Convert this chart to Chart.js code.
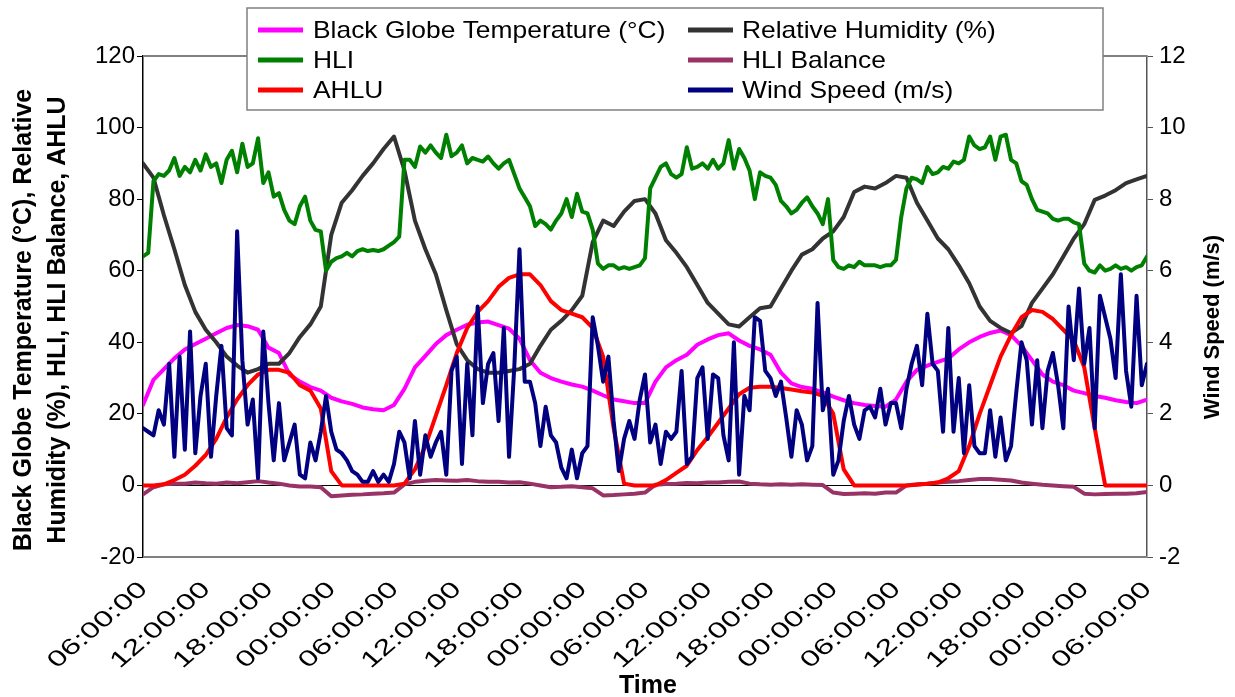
<!DOCTYPE html>
<html>
<head>
<meta charset="utf-8">
<script src="https://cdn.jsdelivr.net/npm/chart.js@4/dist/chart.umd.min.js"></script>
<style>
  html, body { margin: 0; padding: 0; background: #ffffff; }
  #wrap { width: 1235px; height: 697px; }
</style>
</head>
<body>
<div id="wrap"><canvas id="c" width="1235" height="697"></canvas></div>
<script>
// Time axis labels, one every 6 hours over four days
const timeLabels = ["06:00:00","12:00:00","18:00:00","00:00:00","06:00:00","12:00:00","18:00:00","00:00:00",
  "06:00:00","12:00:00","18:00:00","00:00:00","06:00:00","12:00:00","18:00:00","00:00:00","06:00:00"];

// Hourly readings (97 values, 06:00 day 1 to 06:00 day 5)
const globeTemp = [
  22.5, 29.5, 32.5, 35.5, 38, 39.5, 41, 42.5, 44, 44.8,
  44.5, 43.5, 38.5, 37, 31, 29, 27.5, 26.5, 24.5, 23.5,
  22.8, 21.8, 21.3, 21, 22.5, 27, 33, 36.2, 39.5, 42,
  43.5, 44.9, 45.5, 45.8, 44.8, 43.8, 41, 35, 31.5, 30,
  29, 28.2, 27.6, 26.5, 25.2, 24, 23.5, 23, 23, 29,
  33, 35, 36.5, 39.3, 40.8, 42, 42.5, 40.5, 39, 38,
  36.5, 31.5, 28.5, 27.5, 27, 26, 24.8, 23.8, 23, 22.5,
  22.2, 22, 24, 29, 32.3, 33.5, 34.5, 35.5, 38, 40,
  41.5, 42.6, 43.3, 42, 39, 35, 31, 29, 28, 26.5,
  25.8, 25, 24.5, 23.8, 23.3, 23, 24
];
const relHumidity = [
  90, 86, 75.5, 66, 56, 48.5, 43.5, 40, 36, 33.5,
  31.5, 32.5, 34, 34, 37, 41.5, 45, 50, 70, 79,
  82.5, 86.5, 90, 94, 97.5, 88, 74, 66, 59, 49,
  39.5, 35, 32.5, 31.5, 31.5, 32, 32.5, 34, 39, 43.5,
  46, 49, 53, 68, 74, 72.5, 76.5, 79.5, 80, 76,
  68.5, 65, 61, 56, 51, 48, 45, 44.4, 47, 49.5,
  50, 55, 60, 64.5, 66, 69, 71, 75, 82, 83.5,
  83, 84.5, 86.5, 86, 79, 74, 69, 66, 61.5, 56.5,
  50, 46, 44, 42.6, 44.5, 51, 55, 59, 64, 69,
  73, 79.8, 81, 82.5, 84.5, 85.5, 86.5
];
const hliBalance = [
  -2.5, -0.5, 0.3, 0.5, 0.5, 0.8, 0.6, 0.5, 0.8, 0.6,
  0.9, 1.2, 0.8, 0.5, 0, -0.3, -0.3, -0.5, -3.0, -2.8,
  -2.6, -2.5, -2.3, -2.2, -2.0, 0.3, 1.0, 1.3, 1.5, 1.4,
  1.3, 1.5, 1.2, 1.0, 1.0, 0.8, 0.9, 0.5, 0, -0.5,
  -0.4, -0.2, -0.5, -0.8, -2.8, -2.7, -2.5, -2.3, -2.0, 0.2,
  0.4, 0.5, 0.7, 0.6, 0.8, 0.8, 1.0, 1.1, 0.5, 0.3,
  0.2, 0.3, 0.2, 0.3, 0.2, 0.1, -2.0, -2.4, -2.3, -2.2,
  -2.3, -2.0, -2.0, 0, 0.3, 0.5, 0.8, 1.0, 1.2, 1.5,
  1.8, 1.8, 1.6, 1.4, 0.8, 0.5, 0.2, 0, -0.2, -0.4,
  -2.3, -2.5, -2.4, -2.3, -2.3, -2.2, -1.8
];
const ahlu = [
  0, 0, 0.3, 1.5, 3, 5.5, 8.5, 13, 19, 24,
  28, 31, 32.3, 32.3, 31.5, 28, 26.5, 21.5, 4, 0,
  0, 0, 0, 0, 0, 0.5, 4.5, 11, 19.5, 28,
  37, 44, 48.5, 51.5, 55.5, 58, 59, 59, 56, 51.5,
  49, 48, 47, 44, 36, 16, 0.5, 0, 0, 0,
  1.5, 3.5, 5.5, 9.9, 13.5, 17.5, 21.5, 25.5, 27.3, 27.6,
  27.6, 27.2, 26.8, 26.3, 26, 25, 20, 4.5, 0, 0,
  0, 0, 0, 0, 0.2, 0.5, 0.8, 2, 4, 11,
  20, 28, 36, 42, 47, 49, 48.5, 46.5, 43.5, 40.5,
  33, 16, 0, 0, 0, 0, 0
];

// Half-hourly readings (193 values)
const hli = [
  64, 65, 85, 87, 86.5, 88, 91.5, 86.5, 89, 87.5,
  91, 88, 92.5, 89, 90, 84.5, 91, 93.5, 87.5, 95.5,
  89, 90, 97, 84.5, 87.5, 80.7, 81.7, 77, 74, 73,
  78, 80.7, 74, 71.4, 71, 60, 62.5, 63.5, 64, 65,
  64, 65.5, 66, 65.5, 65.8, 65.5, 66, 67, 68, 69.5,
  91, 91, 89, 94.7, 93, 95, 93, 91.5, 98, 92,
  93, 95, 90, 91.5, 91, 90.5, 91.9, 90, 88.5, 90,
  91, 87, 83, 80.5, 78, 72.5, 74, 73, 71.5, 74,
  76, 80, 75, 81.5, 76.5, 76, 71.5, 62, 60.5, 61.5,
  61.5, 60.5, 61, 60.5, 61, 61.5, 63.5, 83, 86, 89,
  90, 87, 86, 87, 94.5, 88.5, 89, 90, 88.5, 91,
  88.5, 90, 96.5, 88.5, 94, 91.5, 88, 80, 87.5, 86.5,
  86, 84, 79.5, 78, 76, 77, 79, 80.5, 78, 76,
  73, 80, 63, 61, 60.5, 61.5, 61, 62.5, 61.5, 61.5,
  61.5, 61, 61.5, 61.5, 63, 75, 83, 86, 85.5, 84.5,
  89, 87, 87.5, 89, 88.5, 90.5, 90, 91, 97.5, 95,
  94, 94.5, 97.5, 91, 97.5, 98, 91, 90, 85, 84,
  80, 77, 76.5, 76, 74.5, 74, 74.5, 74.5, 73.5, 73,
  62, 60, 59.5, 61.5, 60, 60.5, 61.5, 60.5, 61, 60,
  61, 61.5, 64
];
const windSpeed = [
  1.6, 1.5, 1.4, 2.1, 1.7, 3.4, 0.8, 3.6, 1.0, 4.3,
  0.9, 2.5, 3.4, 0.8, 2.5, 3.9, 1.6, 1.4, 7.1, 3.5,
  1.7, 2.4, 0.2, 4.3, 2.3, 0.7, 2.3, 0.7, 1.2, 1.7,
  0.3, 0.2, 1.2, 0.7, 1.5, 2.5, 1.5, 1.0, 0.9, 0.7,
  0.4, 0.3, 0.1, 0.1, 0.4, 0.1, 0.3, 0.1, 0.6, 1.5,
  1.2, 0.2, 1.8, 0.3, 1.4, 0.8, 1.2, 1.5, 0.3, 3.2,
  3.6, 0.6, 3.4, 1.4, 5.0, 2.3, 3.4, 3.7, 1.8, 4.4,
  0.8, 3.3, 6.6, 2.9, 2.9, 2.3, 1.1, 2.2, 1.4, 1.2,
  0.5, 0.2, 1.0, 0.2, 0.9, 1.1, 4.7, 3.9, 2.9, 3.6,
  1.8, 0.4, 1.3, 1.8, 1.3, 2.4, 3.1, 1.2, 1.7, 0.6,
  1.5, 1.3, 1.5, 3.2, 0.6, 0.8, 3.0, 3.3, 1.3, 3.1,
  3.0, 1.4, 0.7, 4.0, 0.3, 2.5, 2.1, 4.7, 4.6, 3.2,
  3.0, 2.5, 2.9, 1.9, 0.8, 2.1, 1.7, 0.7, 1.1, 5.1,
  2.1, 2.7, 0.3, 0.7, 1.8, 2.5, 1.7, 1.3, 2.1, 2.2,
  1.9, 2.7, 1.7, 2.3, 2.3, 1.6, 2.7, 3.4, 3.9, 2.8,
  4.8, 3.4, 3.2, 1.5, 4.4, 1.5, 3.0, 0.9, 2.8, 1.1,
  0.9, 0.9, 2.1, 0.8, 1.9, 0.7, 1.1, 2.6, 4.0, 3.5,
  1.7, 3.5, 1.6, 3.2, 3.7, 2.8, 1.6, 5.0, 3.5, 5.5,
  3.4, 4.4, 1.6, 5.3, 4.7, 4.1, 3.0, 5.9, 3.2, 2.2,
  5.3, 2.8, 3.4
];

const FONT = "'Liberation Sans', Arial, Helvetica, sans-serif";

// Pair each reading with its time in hours since the first sample
function series(values, stepHours) {
  return values.map((v, i) => ({ x: i * stepHours, y: v }));
}

const seriesDefs = [
  { label: "Black Globe Temperature (°C)", data: series(globeTemp, 1), color: "#ff00ff", axis: "y", order: 6 },
  { label: "Relative Humidity (%)", data: series(relHumidity, 1), color: "#333333", axis: "y", order: 5 },
  { label: "HLI", data: series(hli, 0.5), color: "#008000", axis: "y", order: 4 },
  { label: "HLI Balance", data: series(hliBalance, 1), color: "#993366", axis: "y", order: 3 },
  { label: "AHLU", data: series(ahlu, 1), color: "#ff0000", axis: "y", order: 2 },
  { label: "Wind Speed (m/s)", data: series(windSpeed, 0.5), color: "#000080", axis: "y2", order: 1 }
];

// Plot frame, slanted time labels, boxed two-column legend and axis titles
const decorations = {
  id: "decorations",
  beforeDatasetsDraw(chart) {
    const { ctx, chartArea: a } = chart;
    ctx.save();
    ctx.strokeStyle = "#808080";
    ctx.lineWidth = 2;
    ctx.beginPath();
    ctx.moveTo(a.left, a.top); ctx.lineTo(a.right, a.top);
    ctx.moveTo(a.left, a.bottom); ctx.lineTo(a.right, a.bottom);
    ctx.stroke();
    ctx.restore();
  },
  afterDraw(chart) {
    const ctx = chart.ctx;
    const xs = chart.scales.x;
    ctx.save();
    // time labels: slanted, widened text ending at each tick
    ctx.fillStyle = "#000";
    ctx.font = "22px " + FONT;
    ctx.textAlign = "right";
    ctx.textBaseline = "middle";
    xs.ticks.forEach(t => {
      const label = timeLabels[Math.round(t.value / 6)];
      if (label === undefined) return;
      ctx.save();
      ctx.translate(xs.getPixelForValue(t.value) + 1, xs.top + 29);
      ctx.scale(1.17, 1);
      ctx.rotate(-Math.PI / 4);
      ctx.scale(1.3, 1);
      ctx.fillText(label, 0, 0);
      ctx.restore();
    });
    // legend box
    ctx.fillStyle = "#ffffff";
    ctx.fillRect(247, 8, 856, 102);
    ctx.strokeStyle = "#808080";
    ctx.lineWidth = 1.5;
    ctx.strokeRect(247, 8, 856, 102);
    ctx.font = "24px " + FONT;
    ctx.textBaseline = "middle";
    ctx.textAlign = "left";
    const cols = [{ lx: 258, tx: 313 }, { lx: 688, tx: 742 }];
    const rows = [30, 60, 90];
    seriesDefs.forEach((s, i) => {
      const c = cols[i % 2], y = rows[Math.floor(i / 2)];
      ctx.strokeStyle = s.color;
      ctx.lineWidth = 5;
      ctx.beginPath();
      ctx.moveTo(c.lx, y); ctx.lineTo(c.lx + 45, y);
      ctx.stroke();
      ctx.fillStyle = "#000";
      ctx.save();
      ctx.translate(c.tx, y + 1);
      ctx.scale(1.1, 1);
      ctx.fillText(s.label, 0, 0);
      ctx.restore();
    });
    // axis titles
    ctx.fillStyle = "#000";
    ctx.textAlign = "center";
    ctx.textBaseline = "middle";
    ctx.font = "bold 25px " + FONT;
    const leftTitle = ["Black Globe Temperature (°C), Relative", "Humidity (%), HLI, HLI Balance, AHLU"];
    [24, 58].forEach((x, i) => {
      ctx.save();
      ctx.translate(x, 320);
      ctx.rotate(-Math.PI / 2);
      ctx.fillText(leftTitle[i], 0, 0);
      ctx.restore();
    });
    ctx.font = "bold 22px " + FONT;
    ctx.save();
    ctx.translate(1213, 327);
    ctx.rotate(-Math.PI / 2);
    ctx.fillText("Wind Speed (m/s)", 0, 0);
    ctx.restore();
    ctx.font = "bold 25px " + FONT;
    ctx.fillText("Time", 648, 686);
    ctx.restore();
  }
};

new Chart(document.getElementById("c"), {
  type: "line",
  data: {
    datasets: seriesDefs.map(s => ({
      label: s.label,
      data: s.data,
      yAxisID: s.axis,
      borderColor: s.color,
      backgroundColor: s.color,
      borderWidth: 4,
      pointRadius: 0,
      fill: false,
      tension: 0,
      order: s.order
    }))
  },
  options: {
    responsive: false,
    animation: false,
    devicePixelRatio: 1,
    layout: { padding: { top: 56, left: 0, right: 0, bottom: 0 } },
    plugins: { legend: { display: false }, tooltip: { enabled: false } },
    elements: { line: { borderJoinStyle: "round", borderCapStyle: "round" } },
    scales: {
      x: {
        type: "linear",
        min: 0,
        max: 96,
        ticks: { stepSize: 6, autoSkip: false, display: false },
        grid: { display: false },
        border: { display: false },
        afterFit: s => { s.height = 140; }
      },
      y: {
        position: "left",
        min: -20,
        max: 120,
        ticks: { stepSize: 20, padding: 2, color: "#000", font: { family: FONT, size: 24 } },
        grid: {
          drawOnChartArea: true,
          color: c => (c.tick && c.tick.value === 0 ? "#000000" : "rgba(0,0,0,0)"),
          tickColor: "#000",
          tickLength: 6,
          lineWidth: 1
        },
        border: { display: true, color: "#000", width: 1.5 },
        afterFit: s => { s.width = 143; }
      },
      y2: {
        position: "right",
        min: -2,
        max: 12,
        ticks: { stepSize: 2, padding: 6, color: "#000", font: { family: FONT, size: 24 } },
        grid: { drawOnChartArea: false, tickColor: "#555", tickLength: 6 },
        border: { display: true, color: "#555", width: 1.5 },
        afterFit: s => { s.width = 88; }
      }
    }
  },
  plugins: [decorations]
});
</script>
</body>
</html>
